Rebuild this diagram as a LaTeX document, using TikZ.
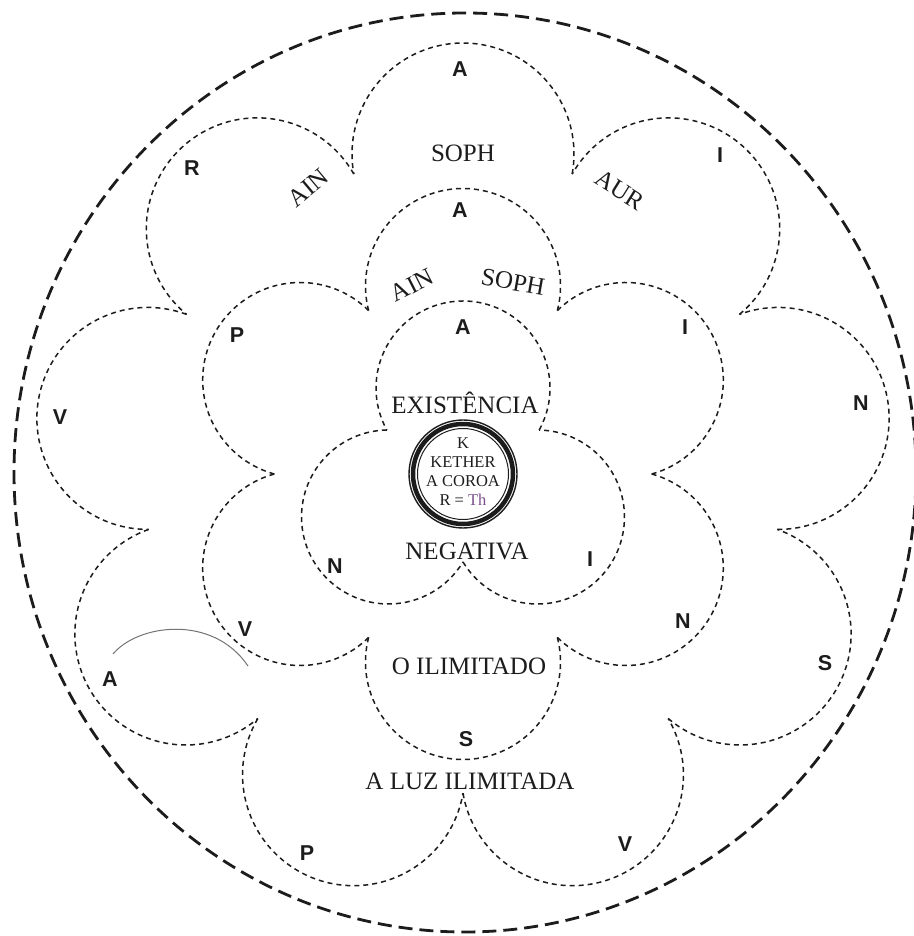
\documentclass[tikz,border=0pt]{standalone}
\usepackage{fontspec}
\setmainfont{Liberation Serif}
\setsansfont{Liberation Sans}
\usetikzlibrary{positioning}
\definecolor{cInk}{HTML}{1C1C1C}
\definecolor{cPurple}{HTML}{7B4F8E}

% #1 petals, #2 distance of petal centres, #3 petal radius
\newcommand\petalring[3]{%
  \pgfmathsetmacro\hw{180/#1}%
  \pgfmathsetmacro\cusp{#2*cos(\hw)+sqrt(#3*#3-(#2*sin(\hw))^2)}%
  \pgfmathsetmacro\off{atan2(-\cusp*sin(\hw),\cusp*cos(\hw)-#2)}%
  \foreach \k in {1,...,#1}{%
    \pgfmathsetmacro\ang{90-360/#1*(\k-1)}%
    \draw[petal] (\ang-\hw:\cusp) arc[start angle=\ang+\off,end angle=\ang-\off,radius=#3];
  }}

\begin{document}
\begin{tikzpicture}[x=1pt,y=1pt,
   petal/.style={cInk,line width=1.5pt,dash pattern=on 5pt off 4pt},
   rim/.style={cInk,line width=2.8pt,dash pattern=on 14pt off 7pt},
   word/.style={inner sep=0pt,text=cInk,font=\fontsize{25}{30}\selectfont},
   lett/.style={inner sep=0pt,text=cInk,font=\fontsize{21.5}{24}\selectfont\sffamily\bfseries}]
  \useasboundingbox (-463,-462) rectangle (450,474);
  \draw[rim] (2,1.5) ellipse[x radius=451,y radius=459.5];

  % the three rings of petals
  \petalring{9}{320}{111}
  \petalring{6}{188}{97.5}
  \petalring{3}{86}{87}

  % crown
  \coordinate (c) at (0,0);
  \draw[cInk,line width=1.4pt] (c) circle[radius=54];
  \draw[cInk,line width=4.5pt] (c) circle[radius=50];
  \draw[cInk,line width=1pt] (c) circle[radius=45.5];
  \node[align=center,inner sep=0pt,text=cInk,font=\fontsize{16.5}{19}\selectfont] (kether) at (0,2)
     {K\\KETHER\\A COROA\\R = \textcolor{cPurple}{Th}};

  % words
  \node[word] (soph1) at (0,321) {SOPH};
  \node[word,rotate=40] (ain1) at (-155,286) {AIN};
  \node[word,rotate=-32] (aur) at (157,284) {AUR};
  \node[word,rotate=27] (ain2) at (-51,189) {AIN};
  \node[word,rotate=-10] (soph2) at (50,192) {SOPH};
  \node[word] (exist) at (2,71) {EXISTÊNCIA};
  \node[word] (neg) at (4,-77) {NEGATIVA};
  \node[word] (ilim) at (6,-192) {O ILIMITADO};
  \node[word] (luz) at (7,-307) {A LUZ ILIMITADA};

  % letters of the outer ring
  \node[lett] (oA1) at (-3,405) {A};
  \node[lett] (oI) at (257,319) {I};
  \node[lett] (oN) at (398,71) {N};
  \node[lett] (oS) at (362,-189) {S};
  \node[lett] (oV1) at (162,-370) {V};
  \node[lett] (oP) at (-156,-379) {P};
  \node[lett] (oA2) at (-353,-205) {A};
  \node[lett] (oV2) at (-403,57) {V};
  \node[lett] (oR) at (-271,306) {R};
  % middle ring
  \node[lett] (mA) at (-3,264) {A};
  \node[lett] (mI) at (222,147) {I};
  \node[lett] (mN) at (220,-147) {N};
  \node[lett] (mS) at (3,-265) {S};
  \node[lett] (mV) at (-218,-155) {V};
  \node[lett] (mP) at (-226,139) {P};
  % inner ring
  \node[lett] (iA) at (0,147) {A};
  \node[lett] (iI) at (127,-85) {I};
  \node[lett] (iN) at (-128,-92) {N};

  \draw[black!55,line width=1pt] (-350,-180) .. controls (-325,-150) and (-250,-140) .. (-215,-192);
\end{tikzpicture}
\end{document}
